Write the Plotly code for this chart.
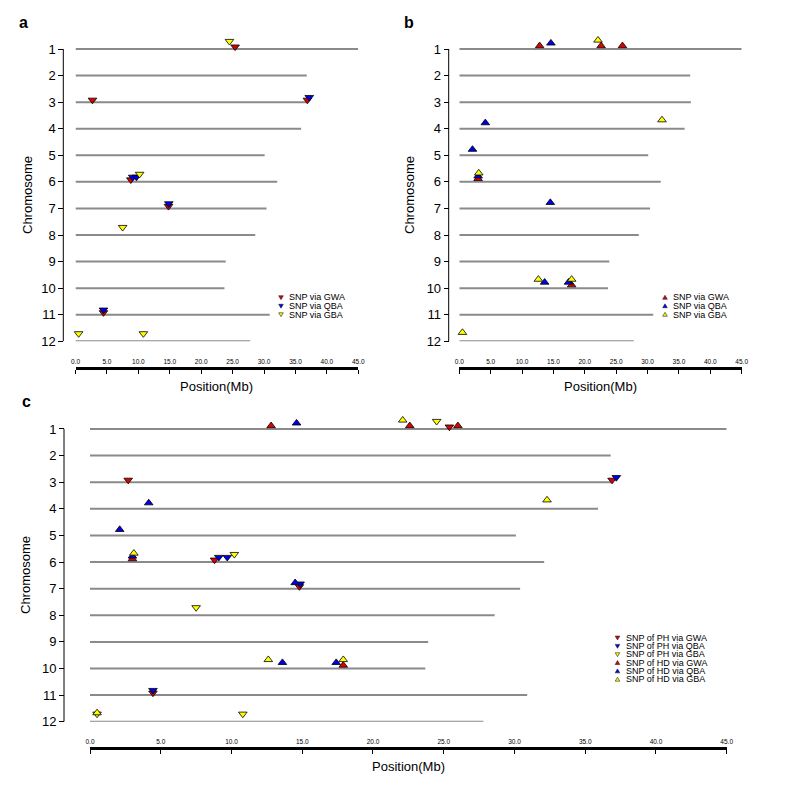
import plotly.graph_objects as go

# ---------------- data ----------------
chromosomes = list(range(1, 13))
chrom_length_mb = [45.0, 36.8, 36.9, 35.9, 30.1, 32.1, 30.4, 28.6, 23.9, 23.7, 30.9, 27.8]
x_tick_values = [0, 5, 10, 15, 20, 25, 30, 35, 40, 45]
x_tick_labels = ["0.0", "5.0", "10.0", "15.0", "20.0", "25.0", "30.0", "35.0", "40.0", "45.0"]

# plant height (PH) SNPs
ph_gwa_chr = [1, 3, 3, 6, 7, 11]
ph_gwa_pos = [25.4, 2.7, 36.9, 8.8, 14.8, 4.45]
ph_qba_chr = [3, 6, 6, 7, 11]
ph_qba_pos = [37.2, 9.1, 9.7, 14.85, 4.45]
ph_gba_chr = [1, 6, 8, 12, 12]
ph_gba_pos = [24.5, 10.2, 7.5, 0.5, 10.8]

# heading date (HD) SNPs
hd_gwa_chr = [1, 1, 1, 6, 10]
hd_gwa_pos = [12.8, 22.6, 26.0, 3.0, 17.9]
hd_qba_chr = [1, 4, 5, 6, 7, 10, 10]
hd_qba_pos = [14.6, 4.15, 2.1, 3.0, 14.5, 13.6, 17.4]
hd_gba_chr = [1, 4, 6, 10, 10, 12]
hd_gba_pos = [22.1, 32.3, 3.1, 12.6, 17.9, 0.5]

# ---------------- style ----------------
W, H = 787, 798
PAGE_OFFSET = 8   # default page margin around the plot div
FONT = "Liberation Sans, Arial, Helvetica, sans-serif"
RED, BLUE, YELLOW = "#DD0000", "#0000E6", "#FFFF00"
LINE_GRAY = "#8a8a8a"
DOWN_OFF = {"GWA": 0.08, "QBA": 0.18, "GBA": 0.29}
UP_OFF = {"GWA": 0.12, "QBA": 0.22, "GBA": 0.33}
MSIZE = 7.5
Y_TOP = 0.55   # top of the y range (room for markers above chromosome 1)


def px_x(p):
    return (p - PAGE_OFFSET) / W


def px_y(p):
    return 1 - (p - PAGE_OFFSET) / H


# panel geometry in screen pixels
panels = {
    "a": dict(ax="", x0=75.5, x1=358.3, y1=49, y12=341.3, yline=63.3, xline=368.3),
    "b": dict(ax="2", x0=459.3, x1=741.7, y1=49, y12=341.3, yline=448.7, xline=368.3),
    "c": dict(ax="3", x0=90.0, x1=726.7, y1=429, y12=721.7, yline=64.0, xline=747.7),
}

fig = go.Figure()
layout = dict(
    template="none",
    width=W, height=H, margin=dict(l=0, r=0, t=0, b=0, pad=0, autoexpand=False),
    paper_bgcolor="white", plot_bgcolor="rgba(0,0,0,0)", showlegend=False,
    font=dict(family=FONT, color="black"),
)
shapes = []
annotations = []

for name, p in panels.items():
    ax = p["ax"]
    unit = (p["y12"] - p["y1"]) / 11.0
    top_px = p["y1"] - (1 - Y_TOP) * unit
    layout["xaxis" + ax] = dict(
        domain=[px_x(p["x0"]), px_x(p["x1"])], range=[0, 45],
        anchor="free", position=px_y(p["xline"]), automargin=False,
        showline=True, linecolor="black", linewidth=3,
        ticks="outside", ticklen=4, tickwidth=1, tickcolor="black",
        tickvals=x_tick_values, ticktext=x_tick_labels,
        ticklabelposition="inside", ticklabeloverflow="allow",
        tickfont=dict(size=6.5, family=FONT, color="black"),
        showgrid=False, zeroline=False, fixedrange=True,
    )
    layout["yaxis" + ax] = dict(
        domain=[px_y(p["y12"]), px_y(top_px)], range=[12, Y_TOP],
        anchor="free", position=px_x(p["yline"]), automargin=False,
        showline=False,
        ticks="outside", ticklen=5, tickwidth=1, tickcolor="black",
        tickvals=chromosomes, ticktext=[str(c) for c in chromosomes],
        tickfont=dict(size=13, family=FONT, color="black"),
        showgrid=False, zeroline=False, fixedrange=True,
    )
    # y axis spine spanning chromosome 1 .. 12 only
    shapes.append(dict(type="line", xref="paper", yref="y" + ax,
                       x0=px_x(p["yline"]), x1=px_x(p["yline"]),
                       y0=chromosomes[0], y1=chromosomes[-1],
                       line=dict(color="black", width=1)))


def chrom_lines(ax):
    xs, ys = [], []
    for c, L in zip(chromosomes, chrom_length_mb):
        xs += [0, L, None]
        ys += [c, c, None]
    fig.add_trace(go.Scatter(
        x=xs, y=ys, mode="lines", line=dict(color=LINE_GRAY, width=2),
        xaxis="x" + ax, yaxis="y" + ax, cliponaxis=False, hoverinfo="skip"))


def snp_trace(ax, chrs, pos, color, symbol, offset, label):
    fig.add_trace(go.Scatter(
        x=pos, y=[c - offset for c in chrs], mode="markers", name=label,
        marker=dict(symbol=symbol, color=color, size=MSIZE,
                    line=dict(color="black", width=0.8)),
        xaxis="x" + ax, yaxis="y" + ax, cliponaxis=False))


# panel a: PH
chrom_lines("")
snp_trace("", ph_gwa_chr, ph_gwa_pos, RED, "triangle-down", DOWN_OFF["GWA"], "SNP via GWA")
snp_trace("", ph_qba_chr, ph_qba_pos, BLUE, "triangle-down", DOWN_OFF["QBA"], "SNP via QBA")
snp_trace("", ph_gba_chr, ph_gba_pos, YELLOW, "triangle-down", DOWN_OFF["GBA"], "SNP via GBA")

# panel b: HD
chrom_lines("2")
snp_trace("2", hd_gwa_chr, hd_gwa_pos, RED, "triangle-up", UP_OFF["GWA"], "SNP via GWA")
snp_trace("2", hd_qba_chr, hd_qba_pos, BLUE, "triangle-up", UP_OFF["QBA"], "SNP via QBA")
snp_trace("2", hd_gba_chr, hd_gba_pos, YELLOW, "triangle-up", UP_OFF["GBA"], "SNP via GBA")

# panel c: both
chrom_lines("3")
snp_trace("3", ph_gwa_chr, ph_gwa_pos, RED, "triangle-down", DOWN_OFF["GWA"], "SNP of PH via GWA")
snp_trace("3", ph_qba_chr, ph_qba_pos, BLUE, "triangle-down", DOWN_OFF["QBA"], "SNP of PH via QBA")
snp_trace("3", ph_gba_chr, ph_gba_pos, YELLOW, "triangle-down", DOWN_OFF["GBA"], "SNP of PH via GBA")
snp_trace("3", hd_gwa_chr, hd_gwa_pos, RED, "triangle-up", UP_OFF["GWA"], "SNP of HD via GWA")
snp_trace("3", hd_qba_chr, hd_qba_pos, BLUE, "triangle-up", UP_OFF["QBA"], "SNP of HD via QBA")
snp_trace("3", hd_gba_chr, hd_gba_pos, YELLOW, "triangle-up", UP_OFF["GBA"], "SNP of HD via GBA")


def tri_path(cx, cy, up, half=2.3):
    # triangle glyph path in paper coordinates, from a pixel centre
    if up:
        pts = [(cx - half, cy + half * 0.75), (cx + half, cy + half * 0.75), (cx, cy - half * 0.95)]
    else:
        pts = [(cx - half, cy - half * 0.75), (cx + half, cy - half * 0.75), (cx, cy + half * 0.95)]
    return "M " + " L ".join("%.5f,%.5f" % (px_x(a), px_y(b)) for a, b in pts) + " Z"


def add_legend(entries, gx, tx, y0, dy):
    for i, (label, color, up) in enumerate(entries):
        y = y0 + i * dy
        shapes.append(dict(type="path", xref="paper", yref="paper",
                           path=tri_path(gx, y, up), fillcolor=color,
                           line=dict(color="#222222", width=0.6), layer="above"))
        annotations.append(dict(
            x=px_x(tx), y=px_y(y), xref="paper", yref="paper", text=label,
            showarrow=False, xanchor="left", yanchor="middle",
            font=dict(size=9, family=FONT, color="black")))


add_legend([("SNP via GWA", RED, False),
            ("SNP via QBA", BLUE, False),
            ("SNP via GBA", YELLOW, False)], 281, 287, 297.5, 8.5)
add_legend([("SNP via GWA", RED, True),
            ("SNP via QBA", BLUE, True),
            ("SNP via GBA", YELLOW, True)], 665, 671, 297.5, 8.5)
add_legend([("SNP of PH via GWA", RED, False),
            ("SNP of PH via QBA", BLUE, False),
            ("SNP of PH via GBA", YELLOW, False),
            ("SNP of HD via GWA", RED, True),
            ("SNP of HD via QBA", BLUE, True),
            ("SNP of HD via GBA", YELLOW, True)], 617.5, 623.5, 637.8, 8.33)

# axis titles and panel letters
for (tx, ty) in [(216.9, 386.7), (600.5, 386.7), (408.3, 766.7)]:
    annotations.append(dict(x=px_x(tx), y=px_y(ty), xref="paper", yref="paper",
                            text="Position(Mb)", showarrow=False,
                            xanchor="center", yanchor="middle",
                            font=dict(size=13, family=FONT)))
for (tx, ty) in [(27, 195), (409, 195), (25, 575)]:
    annotations.append(dict(x=px_x(tx), y=px_y(ty), xref="paper", yref="paper",
                            text="Chromosome", showarrow=False, textangle=-90,
                            xanchor="center", yanchor="middle",
                            font=dict(size=13, family=FONT)))
for (lab, tx, ty) in [("a", 23, 22), ("b", 409, 22), ("c", 26, 402)]:
    annotations.append(dict(x=px_x(tx), y=px_y(ty), xref="paper", yref="paper",
                            text="<b>%s</b>" % lab, showarrow=False,
                            xanchor="center", yanchor="middle",
                            font=dict(size=16, family=FONT)))

layout["annotations"] = annotations
layout["shapes"] = shapes
fig.update_layout(**layout)
fig.write_html("out.html")
